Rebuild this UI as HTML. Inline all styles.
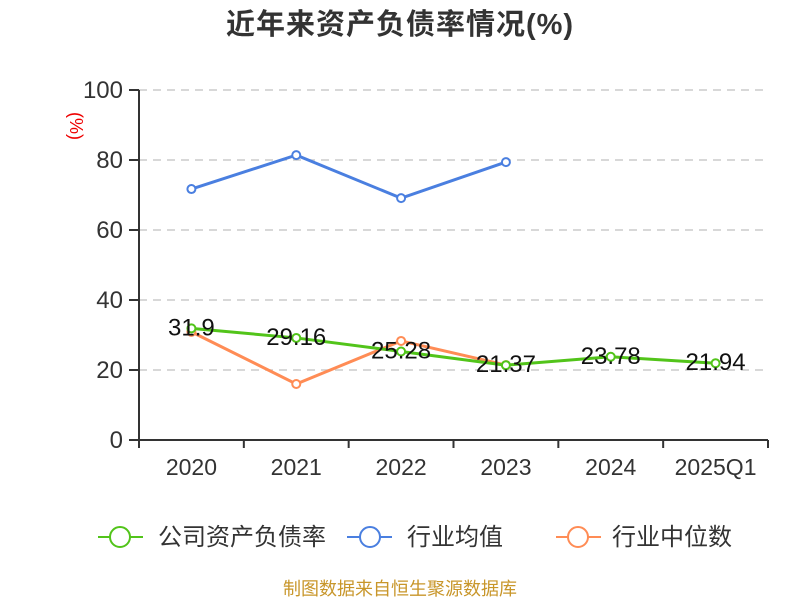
<!DOCTYPE html>
<html><head><meta charset="utf-8"><style>
body{margin:0;background:#fff;font-family:"Liberation Sans","Noto Sans CJK SC",sans-serif}
svg text{font-family:"Liberation Sans","Noto Sans CJK SC",sans-serif}
</style></head><body>
<svg id="c" width="800" height="600" xmlns="http://www.w3.org/2000/svg">
<text x="400" y="34" text-anchor="middle" font-size="29" font-weight="bold" fill="#333" letter-spacing="1">近年来资产负债率情况(%)</text>
<text transform="translate(70,126) rotate(90)" text-anchor="middle" font-size="18" fill="#e00">(%)</text>
<g id="grid"></g><g id="axes"></g><g id="series"></g>
<g>
 <g><line x1="98" y1="537" x2="143" y2="537" stroke="#52c41a" stroke-width="2"/><circle cx="120" cy="537" r="10" fill="#fff" stroke="#52c41a" stroke-width="2"/><text x="158" y="545" font-size="24" fill="#333">公司资产负债率</text></g>
 <g><line x1="347" y1="537" x2="392" y2="537" stroke="#4a7fe0" stroke-width="2"/><circle cx="370" cy="537" r="10" fill="#fff" stroke="#4a7fe0" stroke-width="2"/><text x="407" y="545" font-size="24" fill="#333">行业均值</text></g>
 <g><line x1="556" y1="537" x2="601" y2="537" stroke="#ff8c55" stroke-width="2"/><circle cx="578" cy="537" r="10" fill="#fff" stroke="#ff8c55" stroke-width="2"/><text x="612" y="545" font-size="24" fill="#333">行业中位数</text></g>
</g>
<text x="400" y="595" text-anchor="middle" font-size="18" fill="#c8962a">制图数据来自恒生聚源数据库</text>
</svg>
<script>
const categories=["2020","2021","2022","2023","2024","2025Q1"];
const companyValues=[31.9,29.16,25.28,21.37,23.78,21.94];
const industryAvg=[71.7,81.4,69.1,79.4,null,null];
const industryMedian=[30.9,16.0,28.3,21.4,null,null];
const yTicks=[0,20,40,60,80,100];
const NS="http://www.w3.org/2000/svg";
const x0=139,x1=768,y0=440,y1=90;
const bw=(x1-x0)/categories.length;
const xs=i=>x0+bw*(i+0.5);
const ys=v=>y0-(v/100)*(y0-y1);
function mk(t,a,p){const e=document.createElementNS(NS,t);for(const k in a)e.setAttribute(k,a[k]);p.appendChild(e);return e;}
const grid=document.getElementById('grid'),axes=document.getElementById('axes'),ser=document.getElementById('series');
yTicks.forEach(v=>{
 if(v>0){const g=mk('line',{x1:x0,x2:x1,y1:ys(v),y2:ys(v),stroke:'#ccc','stroke-dasharray':'8,6','stroke-width':1.5},grid);
 
 }
 const t=mk('line',{x1:x0-10,x2:x0,y1:ys(v),y2:ys(v),stroke:'#333','stroke-width':2},axes);
 
 
 const l=mk('text',{x:x0-16,y:ys(v)+8,'text-anchor':'end','font-size':24,fill:'#333'},axes);l.textContent=v;
 
 
});
let a=mk('line',{x1:x0,x2:x0,y1:y1,y2:y0,stroke:'#333','stroke-width':2},axes);


a=mk('line',{x1:x0,x2:x1,y1:y0,y2:y0,stroke:'#333','stroke-width':2},axes);


for(let i=0;i<=categories.length;i++){const t=mk('line',{x1:x0+bw*i,x2:x0+bw*i,y1:y0,y2:y0+8,stroke:'#333','stroke-width':2},axes);
 
 }
categories.forEach((c,i)=>{const l=mk('text',{x:xs(i),y:475,'text-anchor':'middle','font-size':23,fill:'#333'},axes);l.textContent=c;
 
 });
function series(vals,color,name,labels){
 const pts=vals.map((v,i)=>v==null?null:[xs(i),ys(v)]).filter(p=>p);
 const pl=mk('polyline',{points:pts.map(p=>p.join(',')).join(' '),fill:'none',stroke:color,'stroke-width':3},ser);
 
 
 vals.forEach((v,i)=>{if(v==null)return;
  const c=mk('circle',{cx:xs(i),cy:ys(v),r:4,fill:'#fff',stroke:color,'stroke-width':2},ser);
  
  
  if(labels){const t=mk('text',{x:xs(i),y:ys(v)+7,'text-anchor':'middle','font-size':24,fill:'#111'},ser);t.textContent=v;
  
  }
 });
}
series(industryAvg,'#4a7fe0','industry-average',false);
series(industryMedian,'#ff8c55','industry-median',false);
series(companyValues,'#52c41a','company',true);
</script>
</body></html>
